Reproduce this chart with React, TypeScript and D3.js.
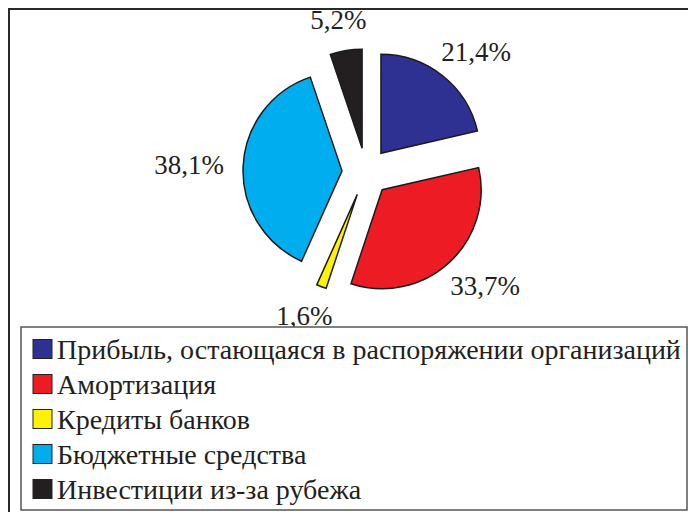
import * as d3 from 'd3';

const categories = [
  'Прибыль, остающаяся в распоряжении организаций',
  'Амортизация',
  'Кредиты банков',
  'Бюджетные средства',
  'Инвестиции из-за рубежа',
];
const shares = [21.4, 33.7, 1.6, 38.1, 5.2];
const sliceLabels = ['21,4%', '33,7%', '1,6%', '38,1%', '5,2%'];
const colors = ['#2e3192', '#ed1c24', '#fff200', '#00aeef', '#231f20'];

export default function App() {
  const width = 688;
  const height = 512;
  const cx = 366;
  const cy = 172;
  const radius = 99;
  const explode = 24;
  const labelR = 142;
  const font = '"Times New Roman", serif';

  const arcs = d3
    .pie<number>()
    .sort(null)
    .value((d) => d)(shares);
  const arc = d3.arc<d3.PieArcDatum<number>>().innerRadius(0).outerRadius(radius);
  const rowY = d3.scalePoint<string>().domain(categories).range([349, 489]);

  return (
    <svg
      width={width}
      height={height}
      fontFamily={font}
      style={{ position: 'absolute', left: 0, top: 0 }}
    >
      {/* outer frame, right and bottom edges run off the picture */}
      <rect x={9} y={9} width={700} height={520} fill="none" stroke="#2a2a2a" strokeWidth={2} />

      <g transform={`translate(${cx},${cy})`}>
        {arcs.map((d, i) => {
          const mid = (d.startAngle + d.endAngle) / 2;
          return (
            <path
              key={i}
              transform={`translate(${Math.sin(mid) * explode},${-Math.cos(mid) * explode})`}
              d={arc(d) ?? ''}
              fill={colors[i]}
              stroke="#1a1a1a"
              strokeWidth={1.5}
            />
          );
        })}
        {arcs.map((d, i) => {
          const mid = (d.startAngle + d.endAngle) / 2;
          const w = sliceLabels[i].length * 14;
          return (
            <text
              key={i}
              x={Math.sin(mid) * (labelR + w / 2)}
              y={-Math.cos(mid) * (labelR + 12)}
              fontFamily={font}
              fontSize={27}
              fill="#231f20"
              textAnchor="middle"
              dominantBaseline="central"
            >
              {sliceLabels[i]}
            </text>
          );
        })}
      </g>

      <rect x={21} y={327} width={666} height={183} fill="#fff" stroke="#555" strokeWidth={1.5} />
      {categories.map((c, i) => (
        <g key={c} transform={`translate(0,${rowY(c)})`}>
          <rect x={33} y={-9.5} width={19} height={19} fill={colors[i]} stroke="#222" strokeWidth={1} />
          <text
            x={57}
            y={0}
            fontFamily={font}
            fontSize={28}
            fill="#231f20"
            dominantBaseline="central"
          >
            {c}
          </text>
        </g>
      ))}
    </svg>
  );
}
